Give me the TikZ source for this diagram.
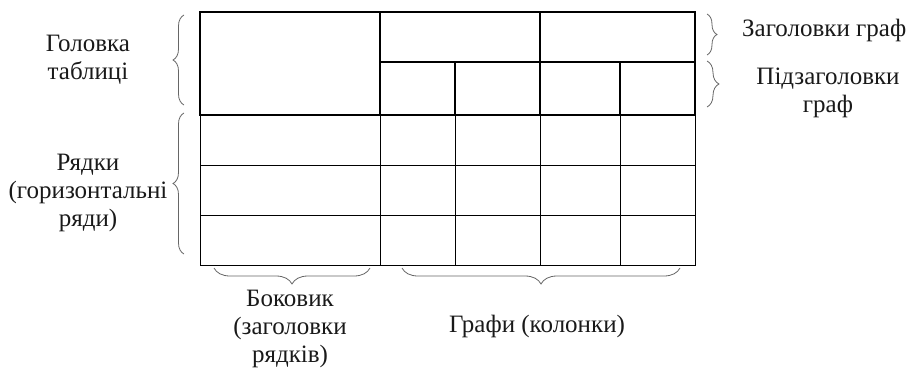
\documentclass[tikz,border=0pt]{standalone}
\usepackage{fontspec}
\setmainfont{Liberation Serif}
\newfontfamily\lblfont{Liberation Serif}
\usetikzlibrary{decorations.pathreplacing}
\begin{document}
\begin{tikzpicture}[x=1pt,y=-1pt,
  hdr/.style={line width=1.6pt},
  bodyline/.style={line width=0.8pt},
  brc/.style={draw=black!60, line width=0.8pt, decorate, decoration={brace, amplitude=#1}},
  lbl/.style={align=center, font=\lblfont\fontsize{25}{28}\selectfont, inner sep=0pt, text=black!90}]
\useasboundingbox (0,0) rectangle (914,375);
% body grid
\draw[bodyline] (200,115) rectangle (695,265);
\foreach \yy in {165,215} \draw[bodyline] (200,\yy) -- (695,\yy);
\foreach \xx in {380,455,540,620} \draw[bodyline] (\xx,115) -- (\xx,265);
% header
\draw[hdr] (200,12) rectangle (695,115);
\draw[hdr] (380,12) -- (380,115);
\draw[hdr] (540,12) -- (540,115);
\draw[hdr] (380,62) -- (695,62);
\draw[hdr] (455,62) -- (455,115);
\draw[hdr] (620,62) -- (620,115);
% braces
\coordinate (l1a) at (184,105); \coordinate (l1b) at (184,15);
\coordinate (l2a) at (184,254); \coordinate (l2b) at (184,113);
\coordinate (r1a) at (707,14); \coordinate (r1b) at (707,55);
\coordinate (r2a) at (707,61); \coordinate (r2b) at (707,107);
\coordinate (b1a) at (370,268); \coordinate (b1b) at (214,268);
\coordinate (b2a) at (680,268); \coordinate (b2b) at (402,268);
\draw[brc=11] (l1a) -- (l1b);
\draw[brc=11] (l2a) -- (l2b);
\draw[brc=10] (r1a) -- (r1b);
\draw[brc=12] (r2a) -- (r2b);
\draw[brc=16] (b1a) -- (b1b);
\draw[brc=16] (b2a) -- (b2b);
% labels
\node[lbl] (golovka) at (88,60) {Головка\\таблиці};
\node[lbl] (ryadky) at (88,193) {Рядки\\(горизонтальні\\ряди)};
\node[lbl,anchor=west] (zag) at (742,30) {Заголовки граф};
\node[lbl] (pidzag) at (828,93) {Підзаголовки\\граф};
\node[lbl] (bokovyk) at (290,329) {Боковик\\(заголовки\\рядків)};
\node[lbl] (grafy) at (537,326) {Графи (колонки)};
\end{tikzpicture}
\end{document}
